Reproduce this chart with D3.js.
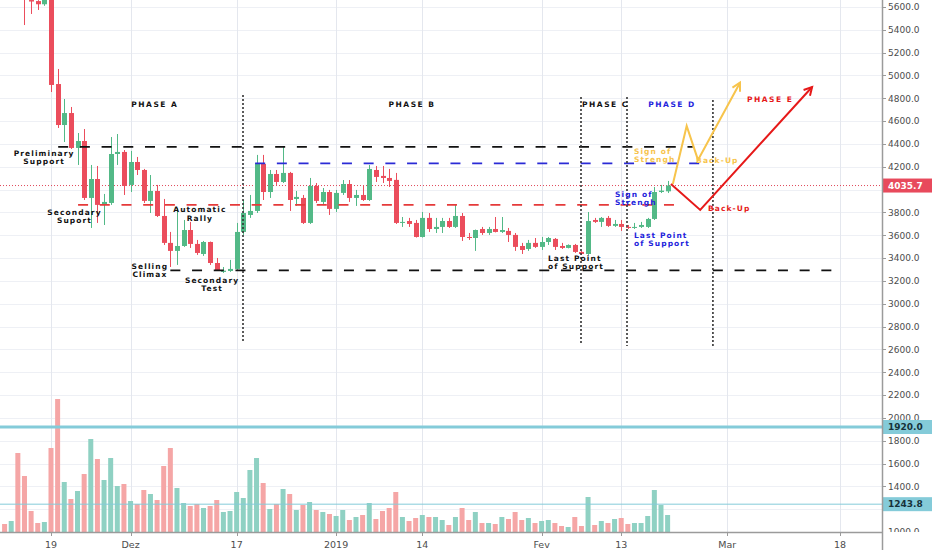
<!DOCTYPE html>
<html>
<head>
<meta charset="utf-8">
<script src="https://cdn.jsdelivr.net/npm/d3@7"></script>
<style>
    html, body { margin: 0; padding: 0; background: #fff; }
    svg { display: block; }
    .note { font-family: 'DejaVu Sans', sans-serif; font-weight: bold; font-size: 7.5px; letter-spacing: 1.1px; }
    .axis-label { font-family: 'DejaVu Sans', sans-serif; font-size: 9px; fill: #4c4c4c; }
</style>
</head>
<body>
<svg id="chart" width="932" height="550"></svg>
<script>
(function () {
    'use strict';

    // daily candles, first one on this day, [open, high, low, close]
    var firstDay = '2018-11-12';
    var candles = [
        [6420, 6450, 6350, 6390], [6390, 6420, 6360, 6400], [6400, 6420, 5700, 5760], [5760, 5780, 5442, 5690],
        [5661, 5700, 5539, 5648], [5652, 5660, 5574, 5624], [5624, 5680, 5610, 5665], [5665, 5680, 4855, 4917],
        [4925, 5057, 4540, 4566], [4566, 4794, 4417, 4671], [4671, 4724, 4356, 4365], [4365, 4496, 4216, 4426],
        [4426, 4531, 3909, 3927], [3927, 4216, 3664, 4093], [4093, 4207, 3708, 3866], [3874, 3962, 3690, 3892],
        [3883, 4461, 3866, 4312], [4312, 4487, 4216, 4330], [4330, 4347, 3953, 4032],
        // december
        [4041, 4339, 3979, 4242], [4242, 4286, 4128, 4172], [4172, 4181, 3883, 3901], [3901, 4128, 3795, 3988],
        [3988, 4041, 3760, 3769], [3769, 3918, 3515, 3533], [3533, 3629, 3322, 3463], [3463, 3839, 3340, 3506],
        [3506, 3734, 3498, 3646], [3646, 3717, 3489, 3524], [3524, 3559, 3428, 3445], [3436, 3550, 3419, 3541],
        [3541, 3545, 3340, 3357], [3357, 3401, 3287, 3296], [3279, 3322, 3270, 3290], [3287, 3384, 3279, 3305],
        [3305, 3708, 3296, 3629], [3629, 3909, 3603, 3795], [3778, 3953, 3752, 3813], [3813, 4304, 3795, 4233],
        [4225, 4304, 3909, 3979], [3979, 4172, 3927, 4137], [4137, 4172, 4041, 4067], [4067, 4374, 4058, 4146],
        [4146, 4155, 3813, 3909], [3918, 3988, 3857, 3936], [3927, 3953, 3699, 3708], [3708, 4102, 3699, 4032],
        [4032, 4058, 3883, 3901], [3892, 4014, 3866, 3979], [3979, 3997, 3778, 3831],
        // january
        [3831, 3997, 3804, 3971], [3971, 4084, 3953, 4049], [4049, 4084, 3892, 3927], [3927, 3997, 3857, 3953],
        [3953, 4032, 3901, 3909], [3909, 4216, 3901, 4181], [4172, 4207, 4067, 4111], [4120, 4207, 4058, 4102],
        [4102, 4181, 4023, 4076], [4085, 4146, 3699, 3708], [3708, 3760, 3673, 3717], [3725, 3752, 3673, 3699],
        [3708, 3734, 3580, 3585], [3585, 3804, 3580, 3752], [3752, 3795, 3629, 3655], [3655, 3752, 3620, 3673],
        [3673, 3752, 3620, 3725], [3725, 3752, 3664, 3673], [3673, 3866, 3664, 3769], [3769, 3795, 3550, 3585],
        [3585, 3620, 3559, 3576], [3576, 3650, 3463, 3646], [3655, 3673, 3603, 3620], [3620, 3673, 3603, 3655],
        [3655, 3760, 3625, 3629], [3629, 3760, 3620, 3646], [3638, 3664, 3541, 3603], [3603, 3620, 3463, 3498],
        [3506, 3533, 3436, 3471], [3480, 3559, 3463, 3533], [3533, 3576, 3489, 3498],
        // february
        [3498, 3585, 3471, 3541], [3541, 3585, 3515, 3576], [3568, 3576, 3471, 3498], [3506, 3533, 3480, 3489],
        [3489, 3520, 3485, 3515], [3515, 3524, 3445, 3454], [3454, 3463, 3428, 3436], [3436, 3804, 3428, 3725],
        [3734, 3752, 3708, 3717], [3717, 3760, 3673, 3752], [3752, 3769, 3673, 3682], [3682, 3734, 3673, 3699],
        [3699, 3734, 3638, 3673], [3673, 3690, 3655, 3664], [3664, 3708, 3655, 3673], [3673, 3717, 3664, 3690],
        [3673, 3752, 3664, 3743], [3743, 4023, 3734, 3979], [3979, 4041, 3970, 3991], [3985, 4076, 3970, 4035.7]
    ];

    // volume per day, same days as the candles
    var volumes = [
        8, 11, 79, 56, 21, 9, 10, 84, 133, 50, 33, 41, 58, 93, 73, 52, 74, 46, 48,
        31, 28, 42, 38, 32, 66, 84, 44, 29, 26, 28, 24, 26, 32, 20, 21, 40, 34, 62, 74, 49, 23, 28, 43, 38, 22, 27, 30, 22, 20, 18,
        16, 22, 12, 15, 17, 29, 13, 21, 24, 40, 15, 11, 14, 17, 15, 15, 12, 7, 15, 24, 12, 20, 9, 9, 8, 15, 13, 20, 12, 14, 9,
        11, 12, 9, 6, 5, 15, 6, 35, 7, 11, 9, 13, 14, 8, 9, 9, 16, 42, 27, 17
    ];

    var priceTicks = [1000, 1200, 1400, 1600, 1800, 2000, 2200, 2400, 2600, 2800, 3000, 3200, 3400,
        3600, 3800, 4000, 4200, 4400, 4600, 4800, 5000, 5200, 5400, 5600];
    var timeTicks = ['2018-11-19', '2018-12-01', '2018-12-17', '2019-01-01', '2019-01-14',
        '2019-02-01', '2019-02-13', '2019-03-01', '2019-03-18'];
    var timeTickLabels = ['19', 'Dez', '17', '2019', '14', 'Fev', '13', 'Mar', '18'];

    var lastPrice = 4035.7;
    var markedLevels = [1920.0, 1243.8];

    // wyckoff drawings
    var levels = [
        { name: 'resistance', price: 4374, from: '2018-11-20T02:00', to: '2019-02-23T19:00' },
        { name: 'upper', price: 4229, from: '2018-12-19T19:00', to: '2019-02-25T07:00' },
        { name: 'middle', price: 3866, from: '2018-11-23T02:00', to: '2019-02-21T14:00' },
        { name: 'support', price: 3292, from: '2018-12-07T00:00', to: '2019-03-17T05:00' }
    ];
    var phaseLines = [
        { date: '2018-12-17T23:00', top: 4829, bottom: 2657 },
        { date: '2019-02-06T22:30', top: 4811, bottom: 2657 },
        { date: '2019-02-13T21:00', top: 4811, bottom: 2630 },
        { date: '2019-02-26T20:00', top: 4785, bottom: 2630 }
    ];
    var redPath = [['2019-02-20T12:00', 4049], ['2019-02-24T22:00', 3822], ['2019-03-13T19:00', 4899]];
    var yellowPath = [['2019-02-20T19:00', 4049], ['2019-02-22T21:00', 4558], ['2019-02-24T14:00', 4260], ['2019-03-02T22:00', 4937]];

    var notes = [
        { text: ['PHASE A'], date: '2018-12-04T16:00', price: 4724, kind: 'black', anchor: 'middle' },
        { text: ['PHASE B'], date: '2019-01-12T11:00', price: 4724, kind: 'black', anchor: 'middle' },
        { text: ['PHASE C'], date: '2019-02-10T15:00', price: 4724, kind: 'black', anchor: 'middle' },
        { text: ['PHASE D'], date: '2019-02-20T16:00', price: 4724, kind: 'blue', anchor: 'middle' },
        { text: ['PHASE E'], date: '2019-03-07T11:00', price: 4768, kind: 'red', anchor: 'middle' },
        { text: ['Preliminary', 'Support'], date: '2018-11-17T23:00', price: 4286, kind: 'black', anchor: 'middle' },
        { text: ['Secondary', 'Suport'], date: '2018-11-22T13:00', price: 3769, kind: 'black', anchor: 'middle' },
        { text: ['Automatic', 'Rally'], date: '2018-12-11T11:00', price: 3795, kind: 'black', anchor: 'middle' },
        { text: ['Selling', 'Climax'], date: '2018-12-03T22:00', price: 3296, kind: 'black', anchor: 'middle' },
        { text: ['Secondary', 'Test'], date: '2018-12-13T07:00', price: 3173, kind: 'black', anchor: 'middle' },
        { text: ['Last Point', 'of Support'], date: '2019-02-01T23:00', price: 3366, kind: 'black', anchor: 'start' },
        { text: ['Sign of', 'Strengh'], date: '2019-02-12T02:00', price: 3927, kind: 'blue', anchor: 'start' },
        { text: ['Last Point', 'of Support'], date: '2019-02-14T22:00', price: 3568, kind: 'blue', anchor: 'start' },
        { text: ['Sign of', 'Strengh'], date: '2019-02-14T22:00', price: 4304, kind: 'yellow', anchor: 'start' },
        { text: ['Back-Up'], date: '2019-02-24T07:00', price: 4233, kind: 'yellow', anchor: 'start' },
        { text: ['Back-Up'], date: '2019-02-26T02:00', price: 3813, kind: 'red', anchor: 'start' }
    ];

    var colors = {
        up: '#53b987', down: '#eb4d5c', volUp: '#8fd1c3', volDown: '#f5a6a6',
        black: '#111111', blue: '#2323dc', red: '#e61919', yellow: '#f7c44c',
        grid: '#eef0f5', axis: '#9b9b9b', levelMark: '#84cbd9'
    };
    var levelColors = { resistance: '#111111', upper: '#2b2bd6', middle: '#e53a3a', support: '#111111' };

    var width = 932, height = 550, plotRight = 882, plotBottom = 532;

    function parseDate(s) {
        return new Date(s.length === 10 ? s + 'T00:00:00Z' : s + 'Z');
    }

    var x = d3.scaleUtc().domain([parseDate('2018-11-19'), parseDate('2019-03-18')]).range([51, 840]);
    var y = d3.scaleLinear().domain([1000, 5600]).range([532, 7]);
    var yVol = d3.scaleLinear().domain([0, 140]).range([plotBottom, 392]);

    var start = parseDate(firstDay);
    var bars = candles.map(function (c, i) {
        return { date: d3.utcDay.offset(start, i), open: c[0], high: c[1], low: c[2], close: c[3], volume: volumes[i] };
    });
    var bodyWidth = 5;

    var svg = d3.select('#chart');
    svg.append('rect').attr('width', width).attr('height', height).attr('fill', '#fff');

    svg.append('defs').append('clipPath').attr('id', 'plot-clip')
        .append('rect').attr('x', 0).attr('y', 0).attr('width', plotRight).attr('height', plotBottom);

    var plot = svg.append('g').attr('clip-path', 'url(#plot-clip)');

    // grid
    plot.append('g').selectAll('line').data(priceTicks).enter().append('line')
        .attr('x1', 0).attr('x2', plotRight)
        .attr('y1', function (d) { return Math.round(y(d)) + 0.5; })
        .attr('y2', function (d) { return Math.round(y(d)) + 0.5; })
        .attr('stroke', colors.grid).attr('stroke-width', 1);
    plot.append('g').selectAll('line').data(timeTicks).enter().append('line')
        .attr('x1', function (d) { return Math.round(x(parseDate(d))) + 0.5; })
        .attr('x2', function (d) { return Math.round(x(parseDate(d))) + 0.5; })
        .attr('y1', 0).attr('y2', plotBottom)
        .attr('stroke', '#e4e7ee').attr('stroke-width', 1);

    // volume
    plot.append('g').selectAll('rect').data(bars).enter().append('rect')
        .attr('x', function (d) { return x(d.date) - bodyWidth / 2; })
        .attr('y', function (d) { return yVol(d.volume); })
        .attr('width', bodyWidth)
        .attr('height', function (d) { return plotBottom - yVol(d.volume); })
        .attr('fill', function (d) { return d.close >= d.open ? colors.volUp : colors.volDown; });

    // marked horizontal levels
    plot.append('g').selectAll('line').data(markedLevels).enter().append('line')
        .attr('x1', 0).attr('x2', plotRight)
        .attr('y1', function (d) { return y(d); }).attr('y2', function (d) { return y(d); })
        .attr('stroke', colors.levelMark)
        .attr('stroke-width', function (d, i) { return i === 0 ? 3 : 1; });

    // last price line
    plot.append('line')
        .attr('x1', 0).attr('x2', plotRight)
        .attr('y1', y(lastPrice)).attr('y2', y(lastPrice))
        .attr('stroke', '#e0495a').attr('stroke-width', 1).attr('stroke-dasharray', '1,2');

    // candles
    var candleGroup = plot.append('g').selectAll('g').data(bars).enter().append('g');
    candleGroup.append('line')
        .attr('x1', function (d) { return Math.round(x(d.date)) + 0.5; })
        .attr('x2', function (d) { return Math.round(x(d.date)) + 0.5; })
        .attr('y1', function (d) { return y(d.high); })
        .attr('y2', function (d) { return y(d.low); })
        .attr('stroke', function (d) { return d.close >= d.open ? colors.up : colors.down; })
        .attr('stroke-width', 1);
    candleGroup.append('rect')
        .attr('x', function (d) { return Math.round(x(d.date)) + 0.5 - bodyWidth / 2; })
        .attr('y', function (d) { return y(Math.max(d.open, d.close)); })
        .attr('width', bodyWidth)
        .attr('height', function (d) { return Math.max(1, Math.abs(y(d.open) - y(d.close))); })
        .attr('fill', function (d) { return d.close >= d.open ? colors.up : colors.down; });

    // dashed levels
    plot.append('g').selectAll('line').data(levels).enter().append('line')
        .attr('x1', function (d) { return x(parseDate(d.from)); })
        .attr('x2', function (d) { return x(parseDate(d.to)); })
        .attr('y1', function (d) { return y(d.price); })
        .attr('y2', function (d) { return y(d.price); })
        .attr('stroke', function (d) { return levelColors[d.name]; })
        .attr('stroke-width', 1.8)
        .attr('stroke-dasharray', '10,11.7');

    // phase separators
    plot.append('g').selectAll('line').data(phaseLines).enter().append('line')
        .attr('x1', function (d) { return x(parseDate(d.date)); })
        .attr('x2', function (d) { return x(parseDate(d.date)); })
        .attr('y1', function (d) { return y(d.top); })
        .attr('y2', function (d) { return y(d.bottom); })
        .attr('stroke', '#333').attr('stroke-width', 1.6).attr('stroke-dasharray', '2,2');

    // projected paths with arrow heads
    function drawArrow(points, color) {
        var pts = points.map(function (p) { return [x(parseDate(p[0])), y(p[1])]; });
        plot.append('path')
            .attr('d', d3.line()(pts))
            .attr('fill', 'none').attr('stroke', color).attr('stroke-width', 2)
            .attr('stroke-linejoin', 'miter');
        var a = pts[pts.length - 2], b = pts[pts.length - 1];
        var angle = Math.atan2(b[1] - a[1], b[0] - a[0]), len = 9;
        var head = [
            [b[0] - len * Math.cos(angle - 0.5), b[1] - len * Math.sin(angle - 0.5)],
            b,
            [b[0] - len * Math.cos(angle + 0.5), b[1] - len * Math.sin(angle + 0.5)]
        ];
        plot.append('path')
            .attr('d', d3.line()(head))
            .attr('fill', 'none').attr('stroke', color).attr('stroke-width', 2);
    }
    drawArrow(yellowPath, colors.yellow);
    drawArrow(redPath, colors.red);

    // notes, two-line ones are nudged up a little so the lines can breathe
    var noteGroup = plot.append('g').selectAll('text').data(notes).enter().append('text')
        .attr('class', 'note')
        .attr('x', function (d) { return x(parseDate(d.date)); })
        .attr('y', function (d) { return y(d.price) - (d.text.length > 1 ? 0.7 : 0); })
        .attr('text-anchor', function (d) { return d.anchor; })
        .attr('fill', function (d) { return colors[d.kind]; })
        .style('letter-spacing', function (d) { return d.text[0].indexOf('PHASE') === 0 ? '1.5px' : null; });
    noteGroup.each(function (d) {
        var t = d3.select(this), px = x(parseDate(d.date));
        d.text.forEach(function (line, i) {
            t.append('tspan').attr('x', px).attr('dy', i === 0 ? 0 : 8.2).text(line);
        });
    });

    // price axis
    var axisG = svg.append('g');
    axisG.append('rect').attr('x', plotRight).attr('y', 0).attr('width', width - plotRight).attr('height', height).attr('fill', '#fff');
    axisG.append('defs').append('clipPath').attr('id', 'axis-clip')
        .append('rect').attr('x', plotRight).attr('y', 0).attr('width', width - plotRight).attr('height', plotBottom);
    var ticksG = axisG.append('g').attr('clip-path', 'url(#axis-clip)');
    // labels that would sit under a value tag are left out
    var tagValues = markedLevels.concat([lastPrice]);
    var shownTicks = priceTicks.filter(function (d) {
        return tagValues.every(function (v) { return Math.abs(y(d) - y(v)) > 7; });
    });
    ticksG.selectAll('line').data(priceTicks).enter().append('line')
        .attr('x1', plotRight).attr('x2', plotRight + 4)
        .attr('y1', function (d) { return Math.round(y(d)) + 0.5; })
        .attr('y2', function (d) { return Math.round(y(d)) + 0.5; })
        .attr('stroke', colors.axis);
    ticksG.selectAll('text').data(shownTicks).enter().append('text')
        .attr('class', 'axis-label')
        .attr('x', plotRight + 6)
        .attr('y', function (d) { return y(d) + 3.3; })
        .text(function (d) { return d3.format('.1f')(d); });

    // value tags on the axis
    function tag(value, fill, textColor) {
        var g = axisG.append('g');
        g.append('rect').attr('x', plotRight).attr('y', y(value) - 7).attr('width', width - plotRight).attr('height', 14).attr('fill', fill);
        g.append('text').attr('class', 'axis-label').attr('x', plotRight + 6).attr('y', y(value) + 3.3)
            .style('fill', textColor).style('font-weight', 'bold').text(d3.format('.1f')(value));
    }
    markedLevels.forEach(function (v) { tag(v, colors.levelMark, '#17323a'); });
    tag(lastPrice, '#e84a5c', '#ffffff');

    axisG.append('line')
        .attr('x1', plotRight + 0.5).attr('x2', plotRight + 0.5).attr('y1', 0).attr('y2', height)
        .attr('stroke', colors.axis).attr('stroke-width', 1.5);

    // time axis
    var timeG = svg.append('g');
    timeG.append('line')
        .attr('x1', 0).attr('x2', plotRight).attr('y1', plotBottom + 0.5).attr('y2', plotBottom + 0.5)
        .attr('stroke', colors.axis).attr('stroke-width', 1.5);
    timeG.selectAll('line.tick').data(timeTicks).enter().append('line')
        .attr('class', 'tick')
        .attr('x1', function (d) { return Math.round(x(parseDate(d))) + 0.5; })
        .attr('x2', function (d) { return Math.round(x(parseDate(d))) + 0.5; })
        .attr('y1', plotBottom + 1).attr('y2', plotBottom + 4)
        .attr('stroke', colors.axis);
    timeG.selectAll('text').data(timeTicks).enter().append('text')
        .attr('class', 'axis-label')
        .attr('x', function (d) { return x(parseDate(d)); })
        .attr('y', 548)
        .attr('text-anchor', 'middle')
        .style('font-size', '9.5px')
        .text(function (d, i) { return timeTickLabels[i]; });
})();
</script>
</body>
</html>
